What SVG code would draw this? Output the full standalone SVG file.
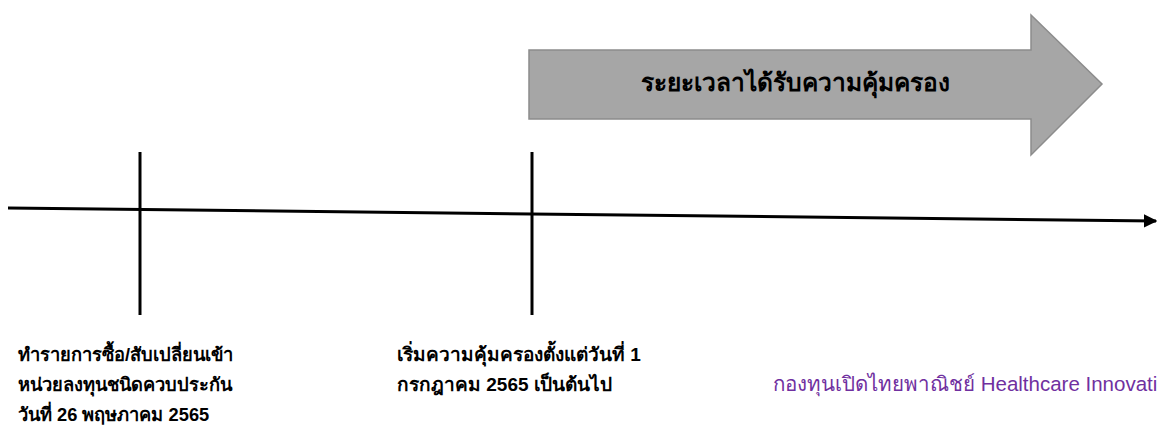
<svg xmlns="http://www.w3.org/2000/svg" width="1157" height="428" viewBox="0 0 1157 428">
<style>
.t{font-family:"Liberation Sans","Noto Sans","DejaVu Sans",sans-serif;font-size:19px;font-weight:bold;fill:#000}
.s{font-size:18.3px}
.p{font-family:"Liberation Sans","Noto Sans","DejaVu Sans",sans-serif;font-size:20.5px;fill:#7030a0}
.tick{stroke:#000;stroke-width:3}
</style>
<defs>
<marker id="ah" viewBox="0 0 10 10" refX="9" refY="5" markerWidth="4.5" markerHeight="4.5" orient="auto" markerUnits="strokeWidth">
<path d="M0,0 L10,5 L0,10 z" fill="#000"/>
</marker>
</defs>
<rect width="1157" height="428" fill="#fff"/>
<g id="coverage-arrow">
<polygon points="529,50 1031,50 1031,15 1102,84 1031,155 1031,119 529,119" fill="#a6a6a6" stroke="#8c8c8c" stroke-width="1.5"/>
<text x="795" y="91" text-anchor="middle" font-family="Liberation Sans,Noto Sans,DejaVu Sans,sans-serif" font-size="24.5" font-weight="bold" fill="#000">ระยะเวลาได้รับความคุ้มครอง</text>
</g>
<g id="connectors">
<line x1="8" y1="208" x2="1156" y2="221" stroke="#000" stroke-width="3" marker-end="url(#ah)"/>
</g>
<g id="tick-1">
<line class="tick" x1="140" y1="152" x2="140" y2="315"/>
<text class="t s" x="18" y="361">ทำรายการซื้อ/สับเปลี่ยนเข้า</text>
<text class="t s" x="18" y="391">หน่วยลงทุนชนิดควบประกัน</text>
<text class="t s" x="18" y="421">วันที่ 26 พฤษภาคม 2565</text>
</g>
<g id="tick-2">
<line class="tick" x1="532" y1="152" x2="532" y2="315"/>
<text class="t" x="397" y="361">เริ่มความคุ้มครองตั้งแต่วันที่ 1</text>
<text class="t" x="397" y="391">กรกฎาคม 2565 เป็นต้นไป</text>
</g>
<g id="fund-label">
<text class="p" x="773" y="391">กองทุนเปิดไทยพาณิชย์ Healthcare Innovati</text>
</g>
</svg>
